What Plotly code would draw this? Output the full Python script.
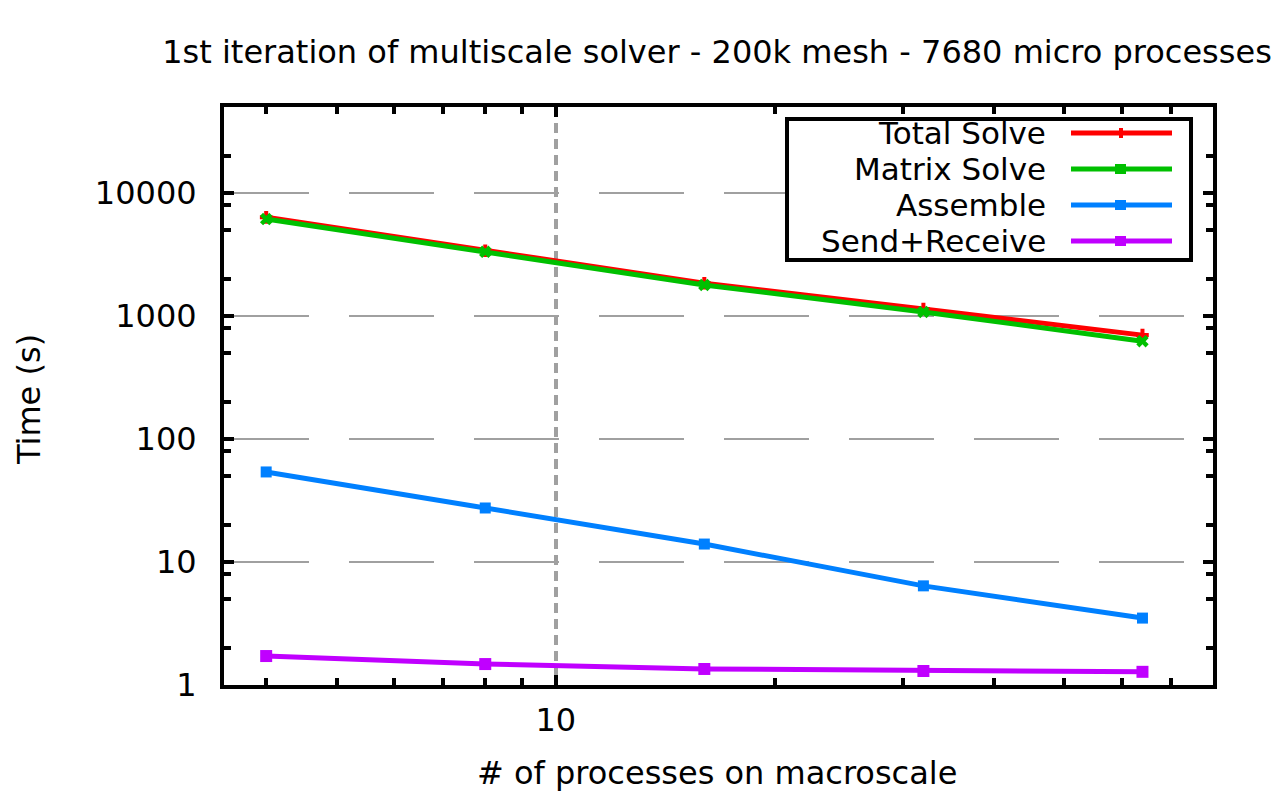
import plotly.graph_objects as go

# ---- data ----
procs = [4, 8, 16, 32, 64]
total_solve = [6350, 3400, 1850, 1140, 700]
matrix_solve = [6150, 3330, 1790, 1080, 625]
assemble = [54, 27.5, 14.0, 6.4, 3.5]
send_receive = [1.72, 1.48, 1.35, 1.30, 1.28]

names = ["Total Solve", "Matrix Solve", "Assemble", "Send+Receive"]
colors = ["#ff0000", "#00c000", "#0080ff", "#c000ff"]
values = [total_solve, matrix_solve, assemble, send_receive]

y_major = [1, 10, 100, 1000, 10000]
y_major_text = ["1", "10", "100", "1000", "10000"]
y_minor = [2, 5, 8, 20, 50, 80, 200, 500, 800, 2000, 5000, 8000, 20000]
x_major = [10]
x_major_text = ["10"]
x_minor = [4, 5, 6, 7, 8, 9, 20, 30, 40, 50, 60, 70]

title_text = "1st iteration of multiscale solver - 200k mesh - 7680 micro processes"
x_title = "# of processes on macroscale"
y_title = "Time (s)"

FONT = "DejaVu Sans"
FS = 32
W, H = 1280, 801
L, R, T, B = 224, 1213, 107, 685  # plot area in pixels

def px(x):
    return (x - L) / (R - L)

def py(y):
    return (B - y) / (B - T)

fig = go.Figure()
markers = [
    dict(symbol="cross-thin", size=9, line=dict(width=4)),
    dict(symbol="x", size=11, line=dict(width=0)),
    dict(symbol="square", size=11, line=dict(width=0)),
    dict(symbol="square", size=12, line=dict(width=0)),
]
for name, vals, col, mk in zip(names, values, colors, markers):
    m = dict(mk)
    m["color"] = col
    m["line"] = dict(mk["line"], color=col)
    fig.add_trace(go.Scatter(x=procs, y=vals, name=name, mode="lines+markers",
                             line=dict(color=col, width=5), marker=m,
                             showlegend=False))

axis_common = dict(
    showline=True, linewidth=4, linecolor="black", mirror="allticks",
    ticks="inside", ticklen=10, tickwidth=4, tickcolor="black",
    tickfont=dict(family=FONT, size=FS, color="black"),
    zeroline=False,
)

fig.update_xaxes(
    type="log", range=[0.5441, 1.9031],
    tickmode="array", tickvals=x_major, ticktext=x_major_text,
    showgrid=True, gridcolor="#a0a0a0", gridwidth=4, griddash="10px,6px",
    minor=dict(tickmode="array", tickvals=x_minor, ticks="inside",
               ticklen=7, tickwidth=4, tickcolor="black", showgrid=False),
    ticklabelstandoff=4,
    **axis_common,
)
fig.update_yaxes(
    type="log", range=[0, 4.7],
    tickmode="array", tickvals=y_major, ticktext=y_major_text,
    showgrid=True, gridcolor="#a0a0a0", gridwidth=2, griddash="85px,40px",
    minor=dict(tickmode="array", tickvals=y_minor, ticks="inside",
               ticklen=7, tickwidth=4, tickcolor="black", showgrid=False),
    ticklabelstandoff=17,
    **axis_common,
)

shapes = []
annotations = []
# custom legend box (gnuplot style: text right-aligned, sample on the right)
shapes.append(dict(type="rect", xref="paper", yref="paper",
                   x0=px(787), x1=px(1191), y0=py(260), y1=py(119),
                   line=dict(color="black", width=4), fillcolor="white",
                   layer="above"))
rows = [133, 169, 205, 241]
for i, (name, col) in enumerate(zip(names, colors)):
    yy = rows[i]
    annotations.append(dict(text=name, xref="paper", yref="paper",
                            x=px(1048), y=py(yy), xanchor="right", yanchor="middle",
                            showarrow=False,
                            font=dict(family=FONT, size=31, color="black")))
    shapes.append(dict(type="line", xref="paper", yref="paper",
                       x0=px(1071), x1=px(1172), y0=py(yy), y1=py(yy),
                       line=dict(color=col, width=5), layer="above"))
    if i == 0:
        shapes.append(dict(type="line", xref="paper", yref="paper",
                           x0=px(1121), x1=px(1121), y0=py(yy - 5), y1=py(yy + 5),
                           line=dict(color=col, width=4), layer="above"))
    else:
        shapes.append(dict(type="rect", xref="paper", yref="paper",
                           x0=px(1115), x1=px(1126), y0=py(yy + 5), y1=py(yy - 5),
                           line=dict(color=col, width=0), fillcolor=col, layer="above"))

annotations.append(dict(text=x_title, xref="paper", yref="paper",
                        x=px(717), y=py(773), xanchor="center", yanchor="middle",
                        showarrow=False, font=dict(family=FONT, size=FS, color="black")))
annotations.append(dict(text=y_title, xref="paper", yref="paper",
                        x=px(29), y=py(400), xanchor="center", yanchor="middle",
                        textangle=-90, showarrow=False,
                        font=dict(family=FONT, size=FS, color="black")))

fig.update_layout(
    width=W, height=H,
    margin=dict(l=L, r=W - R, t=T, b=H - B),
    paper_bgcolor="white", plot_bgcolor="white",
    title=dict(text=title_text, x=717 / W, y=1 - 52 / H, xref="container",
               yref="container", xanchor="center", yanchor="middle",
               font=dict(family=FONT, size=FS, color="black")),
    shapes=shapes, annotations=annotations,
    showlegend=False,
)

fig.write_html("out.html")
